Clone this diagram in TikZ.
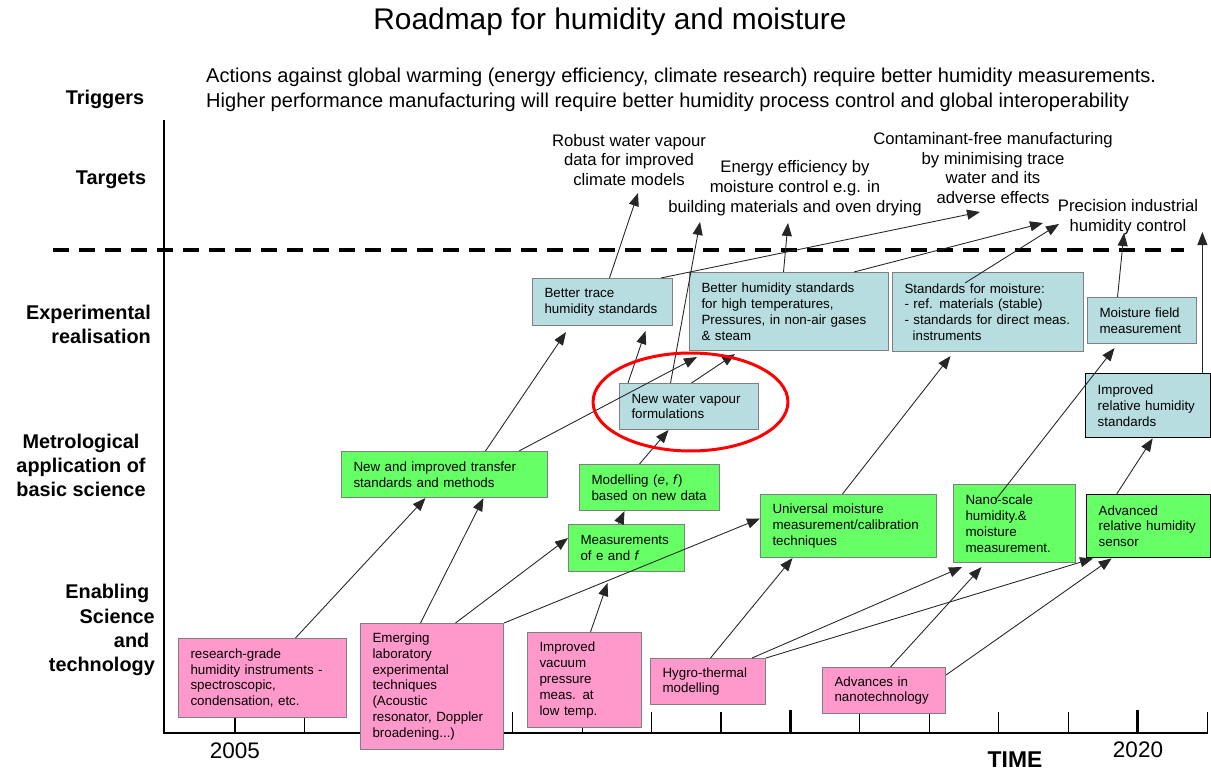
\documentclass[tikz,border=0pt]{standalone}
\usepackage{fontspec}
\setmainfont{Liberation Sans}
\usepackage{tikz}
\usetikzlibrary{arrows.meta,calc}

\definecolor{expblue}{HTML}{B7DDE1}
\definecolor{metgreen}{HTML}{66FF66}
\definecolor{enapink}{HTML}{FF99CC}
\definecolor{boxgray}{HTML}{7F7F7F}

\begin{document}
\begin{tikzpicture}[
    x=0.02cm, y=-0.02cm,
    bx/.style={rectangle, anchor=north west, draw=boxgray, line width=0.6pt, inner xsep=0.24cm, inner ysep=1pt, align=left, font=\fontsize{7.6}{9}\selectfont},
    b1/.style={bx, fill=expblue},
    b2/.style={bx, fill=metgreen},
    b3/.style={bx, fill=enapink},
    dark/.style={draw=black, line width=0.8pt},
    rowlab/.style={font=\fontsize{11.3}{13.7}\selectfont\bfseries},
    tgt/.style={align=center, font=\fontsize{9.5}{11.3}\selectfont},
    arr/.style={-{Triangle[length=0.26cm, width=0.2cm]}, line width=0.5pt, draw=black!85},
    tick/.style={line width=0.6pt}
]
    \useasboundingbox (0,0) rectangle (1211,773);

    % titles and row labels
    \node [font=\fontsize{17}{20}\selectfont] (title) at (610,22) {Roadmap for humidity and moisture};
    \node [rowlab] (trig) at (105,99) {Triggers};
    \node [anchor=west, align=left, font=\fontsize{11.4}{14.2}\selectfont] (trigtxt) at (200,89.5)
        {Actions against global warming (energy efficiency, climate research) require better humidity measurements.\\
         Higher performance manufacturing will require better humidity process control and global interoperability};
    \node [rowlab] (targ) at (111,180) {Targets};
    \node [rowlab, anchor=east, align=right] (rexp) at (157,324) {Experimental\\realisation};
    \node [rowlab, align=center] (rmet) at (81,465) {Metrological\\application of\\basic science};
    \node [rowlab, anchor=east, align=right] (rena) at (161,630) {Enabling\phantom{i}\\Science\\and\phantom{i}\\technology};

    % axes
    \draw [line width=1pt] (164,120) -- (164,733) -- (1208,733);
    \draw [line width=2.8pt, dash pattern=on 0.32cm off 0.2cm] (53,250) -- (1184,250);
    \foreach \k in {0,...,14}
        \draw [tick] ({235+69.43*\k},712) -- ({235+69.43*\k},733);
    \draw [line width=2pt] (790.4,710) -- (790.4,733);
    \draw [line width=2pt] (1137.6,710) -- (1137.6,733);
    \node [font=\fontsize{12.8}{15}\selectfont] (y05) at (235,751) {2005};
    \node [font=\fontsize{12.8}{15}\selectfont] (y20) at (1138,750) {2020};
    \node [font=\fontsize{13}{15}\selectfont\bfseries] (time) at (1015,760) {TIME};

    % targets
    \node [tgt] (rob) at (629,160) {Robust water vapour\\data for improved\\climate models};
    \node [tgt] (een) at (795,188) {Energy efficiency by\\moisture control e.g. in\\building materials and oven drying};
    \node [tgt] (cfm) at (993,168) {Contaminant-free manufacturing\\by minimising trace\\water and its\\adverse effects};
    \node [tgt] (pic) at (1128,217) {Precision industrial\\humidity control};

    % experimental realisation
    \node [b1, text width=2.32cm, minimum height=0.94cm] (bt) at (532,278) {Better trace\\humidity standards};
    \node [b1, text width=3.5cm, minimum height=1.56cm] (bh) at (689,272) {Better humidity standards\\for high temperatures,\\Pressures, in non-air gases\\\& steam};
    \node [b1, text width=3.34cm, minimum height=1.58cm] (sm) at (892,272) {Standards for moisture:\\- ref. materials (stable)\\- standards for direct meas.\\\hspace*{4.6pt}instruments};
    \node [b1, text width=1.7cm, minimum height=0.92cm] (mf) at (1087,297) {Moisture field\\measurement};
    \node [b1, dark, text width=2.02cm, minimum height=1.28cm] (ir) at (1085,373) {Improved\\relative humidity\\standards};
    \node [b1, text width=2.3cm, minimum height=0.92cm] (nwv) at (619,383) {New water vapour\\formulations};

    % metrological application
    \node [b2, text width=3.64cm, minimum height=0.92cm] (nit) at (341,451) {New and improved transfer\\standards and methods};
    \node [b2, text width=2.32cm, minimum height=0.92cm] (mod) at (579,464) {Modelling (\textit{e}, \textit{f})\\based on new data};
    \node [b2, text width=1.84cm, minimum height=0.94cm] (mea) at (568,524) {Measurements\\of e and \textit{f}};
    \node [b2, text width=3.04cm, minimum height=1.26cm] (umc) at (760,494) {Universal moisture\\measurement/calibration\\techniques};
    \node [b2, text width=1.96cm, minimum height=1.56cm] (nano) at (953,484) {Nano-scale\\humidity.\&\\moisture\\measurement.};
    \node [b2, dark, text width=2.0cm, minimum height=1.26cm] (arh) at (1086,494) {Advanced\\relative humidity\\sensor};

    % enabling science
    \node [b3, text width=2.88cm, minimum height=1.58cm] (rgh) at (178,638) {research-grade\\humidity instruments -\\spectroscopic,\\condensation, etc.};
    \node [b3, text width=2.38cm, minimum height=2.52cm] (elt) at (360,623) {Emerging\\laboratory\\experimental\\techniques\\(Acoustic\\resonator, Doppler\\broadening...)};
    \node [b3, text width=1.8cm, minimum height=1.9cm] (ivp) at (527,632) {Improved\\vacuum\\pressure\\meas. at\\low temp.};
    \node [b3, text width=1.82cm, minimum height=0.92cm] (hyg) at (650,658) {Hygro-thermal\\modelling};
    \node [b3, text width=1.98cm, minimum height=0.92cm] (ant) at (822,667) {Advances in\\nanotechnology};

    % connectors
    \draw [arr] ([xshift=0.66cm]rgh.north) -- ([xshift=-0.38cm]nit.south);
    \draw [arr] ([xshift=-0.23cm]elt.north) -- ([xshift=0.78cm]nit.south);
    \draw [arr] ([xshift=0.47cm]elt.north) -- ([yshift=0.2cm]mea.west);
    \draw [arr] (elt.north east) -- ([yshift=0.15cm]umc.west);
    \draw [arr] ([xshift=0.12cm]ivp.north) -- ([xshift=-0.38cm,yshift=-0.22cm]mea.south);
    \draw [arr] ([xshift=-0.16cm]mea.north) -- ([xshift=-0.5cm]mod.south);
    \draw [arr] ([xshift=-0.2cm]mod.north) -- ([xshift=-0.41cm]nwv.south);
    \draw [arr] ([xshift=0.05cm]hyg.north) -- ([xshift=-1.12cm]umc.south);
    \draw [arr] ([xshift=-0.28cm]hyg.north east) -- ([xshift=0.18cm,yshift=-0.08cm]nano.south west);
    \draw [arr] (hyg.north east) -- ([xshift=0.14cm]arh.south west);
    \draw [arr] ([xshift=0.13cm]ant.north) -- ([xshift=-0.66cm,yshift=-0.08cm]nano.south);
    \draw [arr] ([yshift=-0.16cm]ant.north east) -- ([xshift=-0.74cm]arh.south);
    \draw [arr] ([xshift=-0.12cm]umc.north) -- ([xshift=-0.75cm,yshift=-0.08cm]sm.south);
    \draw [arr] ([xshift=-0.38cm,yshift=-0.32cm]nano.north) -- ([xshift=-0.55cm,yshift=-0.08cm]mf.south);
    \draw [arr] ([xshift=-0.64cm]arh.north) -- ([xshift=0.09cm]ir.south);
    \draw [arr] ([xshift=-0.18cm]ir.north east) -- ([xshift=-0.18cm,yshift=2.82cm]ir.north east);
    \draw [arr] ([xshift=-0.49cm]mf.north) -- ([xshift=-0.08cm,yshift=-0.32cm]pic.center);
    \draw [arr] ([xshift=1.46cm,yshift=-0.22cm]sm.north west) -- ([xshift=-1.38cm,yshift=-0.14cm]pic.center);
    \draw [arr] ([xshift=-0.7cm]bh.north east) -- ([xshift=-1.7cm,yshift=-0.12cm]pic.center);
    \draw [arr] ([xshift=-0.24cm]bt.north east) -- ([xshift=-0.26cm,yshift=-0.88cm]cfm.center);
    \draw [arr] ([xshift=0.14cm]bt.north) -- ([xshift=0.18cm,yshift=-0.66cm]rob.center);
    \draw [arr] ([xshift=-0.11cm]bh.north) -- ([xshift=-0.14cm,yshift=-0.7cm]een.center);
    \draw [arr] ([xshift=-0.37cm]nwv.north) -- ([xshift=-1.9cm,yshift=-0.68cm]een.center);
    \draw [arr] ([xshift=0.18cm]nwv.north west) -- ([xshift=0.86cm,yshift=-0.1cm]bt.south);
    \draw [arr] ([xshift=0.05cm]nwv.north) -- ([xshift=0.92cm,yshift=-0.06cm]bh.south west);
    \draw [arr] ([xshift=-0.58cm]nit.north east) -- ([xshift=0.16cm,yshift=-0.12cm]bh.south west);
    \draw [arr] ([xshift=0.82cm]nit.north) -- ([xshift=0.68cm,yshift=-0.12cm]bt.south west);

    % highlight
    \draw [red, line width=1.7pt] (690.5,402) ellipse [x radius=1.95cm, y radius=0.98cm];
\end{tikzpicture}
\end{document}
